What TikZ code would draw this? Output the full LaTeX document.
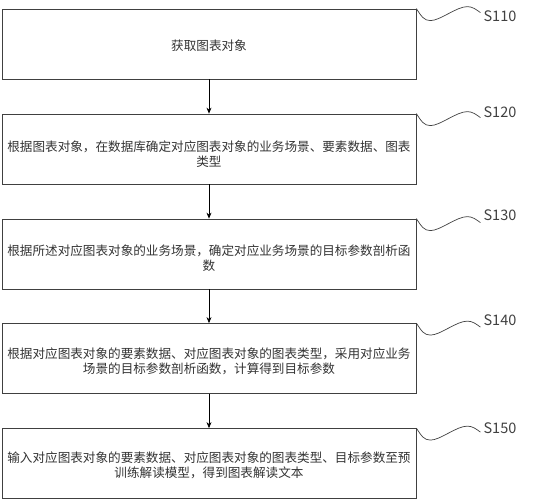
\documentclass[tikz,border=0pt]{standalone}
\usepackage{fontspec}
\setmainfont{Noto Sans CJK SC}
\usetikzlibrary{arrows.meta}
\definecolor{txt}{HTML}{333333}
\definecolor{edge}{HTML}{404040}
\begin{document}
\begin{tikzpicture}[x=1pt,y=1pt,
  box/.style={draw=edge,line width=0.8pt,minimum width=414pt,minimum height=70pt,inner sep=0pt},
  btxt/.style={inner sep=0pt,align=center,text=txt,font=\fontsize{12.6}{15.5}\selectfont},
  flow/.style={draw=black,line width=0.7pt,-{Stealth[length=6pt,width=5pt]}},
  sq/.style={draw=edge,line width=0.7pt},
  lab/.style={text=edge,font=\fontsize{14.5}{16}\selectfont,inner sep=0pt}]
\useasboundingbox (0,0) rectangle (539,-499);
\node[box] (b1) at (209,-44) {};
\node[box] (b2) at (209,-149) {};
\node[box] (b3) at (209,-254) {};
\node[box] (b4) at (209,-358.5) {};
\node[box] (b5) at (209,-463.5) {};
\node[btxt] (t1) at ([yshift=-1.5pt]b1.center) {获取图表对象};
\node[btxt] (t2) at ([yshift=-5pt]b2.center) {根据图表对象，在数据库确定对应图表对象的业务场景、要素数据、图表\\类型};
\node[btxt] (t3) at ([yshift=-4pt]b3.center) {根据所述对应图表对象的业务场景，确定对应业务场景的目标参数剖析函\\数};
\node[btxt] (t4) at ([yshift=-3pt]b4.center) {根据对应图表对象的要素数据、对应图表对象的图表类型，采用对应业务\\场景的目标参数剖析函数，计算得到目标参数};
\node[btxt] (t5) at ([yshift=-2pt]b5.center) {输入对应图表对象的要素数据、对应图表对象的图表类型、目标参数至预\\训练解读模型，得到图表解读文本};
\draw[flow] (b1.south) -- (b2.north);
\draw[flow] (b2.south) -- (b3.north);
\draw[flow] (b3.south) -- (b4.north);
\draw[flow] (b4.south) -- (b5.north);
\foreach \b/\t/\dy in {b1/S110/-8,b2/S120/1,b3/S130/3,b4/S140/3,b5/S150/0}{
  \begin{scope}[shift={(\b.north east)}]
    \draw[sq] (0,0) .. controls (5,-8) and (8,-12) .. (14,-12)
      .. controls (24,-12) and (40,2) .. (51,2)
      .. controls (56,2) and (60,-1) .. (64,-4);
    \node[lab,anchor=west] (l\b) at (67,\dy) {\t};
  \end{scope}
}
\end{tikzpicture}
\end{document}
